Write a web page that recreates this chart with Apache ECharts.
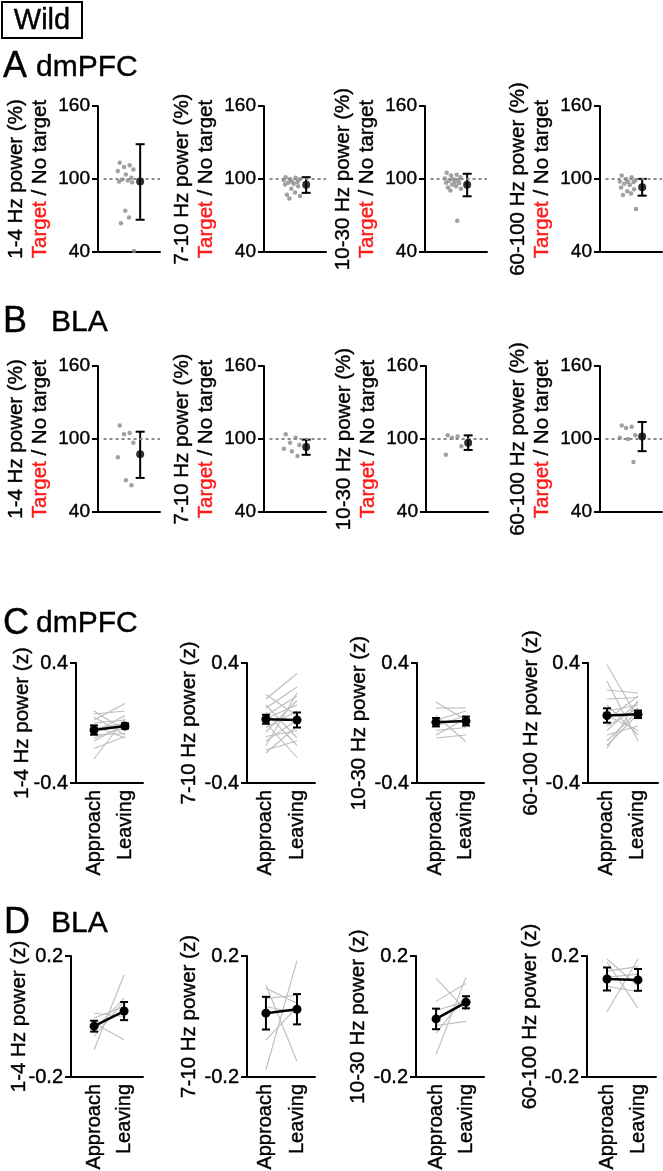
<!DOCTYPE html>
<html><head><meta charset="utf-8">
<script src="https://cdn.jsdelivr.net/npm/echarts@6/dist/echarts.min.js"></script>
<style>html,body{margin:0;padding:0;background:#fff}#c{width:663px;height:1171px}</style>
</head><body><div id="c"></div>
<script>
// ---------------- DATA ----------------
const bandLabels = ['1-4 Hz', '7-10 Hz', '10-30 Hz', '60-100 Hz'];
const ratioTicks = [40, 100, 160];
const zTicksC = [-0.4, 0.4];
const zTicksD = [-0.2, 0.2];
const phases = ['Approach', 'Leaving'];

// Panel A (dmPFC) Target / No target, individual points (%)
const A_dots_1 = [113.4, 111.2, 109.8, 107.9, 106.5, 103.7, 101, 99.5, 98.8, 97.9, 97.4, 73.9, 68.4, 63.7, 40.8];
const A_dots_2 = [101.5, 101, 100, 99.5, 99, 98, 97.5, 97, 96, 95.5, 94, 92, 89, 87, 86, 84];
const A_dots_3 = [105.1, 103.5, 102.9, 101.5, 100.5, 100, 99, 98.5, 97.5, 97, 96.5, 95.5, 94, 93, 92, 90.5, 65.7];
const A_dots_4 = [102.9, 101.5, 100.1, 99, 98, 97.8, 97.5, 96, 95, 93, 91.5, 90, 88, 86.9, 75.3];
const A_mean = [97.9, 95.2, 95.2, 93.2];
const A_lo = [66.5, 88.6, 85.8, 86.3];
const A_hi = [128.6, 101.5, 104.3, 100.1];

// Panel B (BLA)
const B_dots_1 = [111, 105, 104, 97, 85, 66, 62];
const B_dots_2 = [104, 101, 97, 95, 92, 90, 86];
const B_dots_3 = [103, 102, 101, 94, 87];
const B_dots_4 = [111, 110, 109, 103, 101, 100, 81];
const B_mean = [87.5, 93.4, 97, 102];
const B_lo = [68, 87, 91, 90];
const B_hi = [106, 99.5, 103, 114];

// Panel C (dmPFC) z power, individual animals: approach / leaving
const C_app_1 = [0.08, 0.06, 0.04, 0.02, 0.0, -0.02, -0.04, -0.06, -0.08, -0.10, -0.12, -0.17, -0.24];
const C_lea_1 = [-0.05, 0.08, -0.08, 0.13, 0.02, -0.10, 0.0, 0.05, -0.07, -0.03, -0.01, -0.09, 0.03];
const C_app_2 = [0.19, 0.16, 0.12, 0.10, 0.07, 0.05, 0.03, 0.0, -0.03, -0.06, -0.09, -0.12, -0.15, -0.18, -0.20];
const C_lea_2 = [0.05, 0.33, -0.10, 0.24, -0.15, 0.18, 0.12, -0.23, 0.08, 0.15, -0.05, 0.02, 0.20, -0.12, -0.02];
const C_app_3 = [0.14, 0.10, 0.05, 0.02, -0.02, -0.05, -0.08, -0.10];
const C_lea_3 = [0.02, 0.10, -0.125, 0.08, 0.05, -0.03, 0.03, -0.08];
const C_app_4 = [0.39, 0.28, 0.22, 0.16, 0.12, 0.08, 0.05, 0.02, -0.02, -0.05, -0.08, -0.12, -0.15, -0.17];
const C_lea_4 = [0.03, -0.12, 0.20, 0.17, -0.08, 0.12, -0.05, 0.18, 0.10, 0.14, -0.02, 0.08, 0.06, 0.15];
const C_meanApp = [-0.047, 0.025, 0.005, 0.05];
const C_meanLea = [-0.02, 0.02, 0.013, 0.058];
const C_errApp = [0.031, 0.03, 0.028, 0.048];
const C_errLea = [0.017, 0.05, 0.03, 0.025];

// Panel D (BLA)
const D_app_1 = [-0.11, -0.066, -0.022, -0.005, 0.011, -0.044];
const D_lea_1 = [0.137, 0.05, -0.077, 0.033, 0.0, 0.06];
const D_app_2 = [-0.176, 0.104, 0.093, 0.033, -0.077, 0.06];
const D_lea_2 = [0.185, -0.148, 0.044, 0.011, 0.03, 0.07];
const D_app_3 = [0.126, -0.126, 0.05, -0.03, -0.055, 0.02];
const D_lea_3 = [0.02, 0.13, 0.11, -0.016, 0.07, 0.05];
const D_app_4 = [0.19, 0.18, 0.016, 0.15, 0.10, 0.13];
const D_lea_4 = [0.10, 0.027, 0.19, 0.165, 0.082, 0.14];
const D_meanApp = [-0.032, 0.011, -0.008, 0.124];
const D_meanLea = [0.018, 0.024, 0.047, 0.121];
const D_errApp = [0.018, 0.054, 0.034, 0.038];
const D_errLea = [0.03, 0.05, 0.02, 0.036];

// ---------------- LAYOUT / STYLE ----------------
const FONT = '"Liberation Sans", Arial, Helvetica, sans-serif';
const BLACK = '#000';
const RED = '#ff1a1a';
const axisLineStyle = { color: BLACK, width: 2 };
const thick = (c) => ({ textBorderColor: c, textBorderWidth: 0.4 });

const option = {
  animation: false,
  backgroundColor: '#fff',
  textStyle: { fontFamily: FONT },
  grid: [], xAxis: [], yAxis: [], series: [], graphic: []
};

const jitter = [-0.1, 0.06, -0.03, 0.12, -0.13, 0.0, 0.09, -0.06, 0.03, -0.11, 0.1, -0.01, 0.05, -0.08, 0.13, -0.04, 0.07];
const DOT_X = 0.45, MEAN_X = 0.68;

function errRender(cap) {
  return function (params, api) {
    const x = api.value(0), lo = api.value(2), hi = api.value(3);
    const pLo = api.coord([x, lo]), pHi = api.coord([x, hi]);
    const st = { stroke: BLACK, lineWidth: 2 };
    return { type: 'group', children: [
      { type: 'line', shape: { x1: pLo[0], y1: pLo[1], x2: pHi[0], y2: pHi[1] }, style: st },
      { type: 'line', shape: { x1: pLo[0] - cap, y1: pLo[1], x2: pLo[0] + cap, y2: pLo[1] }, style: st },
      { type: 'line', shape: { x1: pHi[0] - cap, y1: pHi[1], x2: pHi[0] + cap, y2: pHi[1] }, style: st }
    ]};
  };
}

function grayRender(params, api) {
  const p1 = api.coord([0, api.value(1)]);
  const p2 = api.coord([1, api.value(2)]);
  return { type: 'line', shape: { x1: p1[0], y1: p1[1], x2: p2[0], y2: p2[1] },
           style: { stroke: '#bdbdbd', lineWidth: 1.1 } };
}

function addRatioPanel(top, lefts, dotsList, means, los, his) {
  for (let i = 0; i < 4; i++) {
    const gi = option.grid.length;
    option.grid.push({ left: lefts[i], top: top, width: 62, height: 146, containLabel: false, outerBoundsMode: 'none' });
    option.xAxis.push({ gridIndex: gi, type: 'value', min: 0, max: 1,
      axisLine: { show: true, onZero: false, lineStyle: axisLineStyle },
      axisTick: { show: false }, axisLabel: { show: false }, splitLine: { show: false } });
    option.yAxis.push({ gridIndex: gi, type: 'value', min: 40, max: 160,
      axisLine: { show: true, onZero: false, lineStyle: axisLineStyle },
      axisTick: { show: true, length: 6, customValues: ratioTicks, lineStyle: axisLineStyle },
      axisLabel: Object.assign({ customValues: ratioTicks, fontSize: 19, color: BLACK, margin: 8, fontFamily: FONT }, thick(BLACK)),
      splitLine: { show: false },
      name: '{k|' + bandLabels[i] + ' power (%)}\n{r|Target}{k| / No target}',
      nameLocation: 'middle', nameRotate: 90, nameGap: 46, nameMoveOverlap: false,
      nameTextStyle: { rich: {
        k: Object.assign({ color: BLACK, fontSize: 20.5, fontFamily: FONT, lineHeight: 24 }, thick(BLACK)),
        r: Object.assign({ color: RED, fontSize: 20.5, fontFamily: FONT, lineHeight: 24 }, thick(RED)) } }
    });
    const dots = dotsList[i].map((v, j) => [DOT_X + jitter[j % jitter.length], v]);
    option.series.push({ type: 'scatter', xAxisIndex: gi, yAxisIndex: gi, data: dots,
      symbol: 'circle', symbolSize: 4.5, itemStyle: { color: '#8a8a8a' }, z: 2, silent: true,
      markLine: { silent: true, symbol: 'none', label: { show: false },
        lineStyle: { color: '#8a8a8a', width: 2, type: [3, 3] },
        data: [[{ coord: [0.09, 100] }, { coord: [1, 100] }]] } });
    option.series.push({ type: 'custom', xAxisIndex: gi, yAxisIndex: gi, z: 4, silent: true,
      renderItem: errRender(4.5), encode: { x: 0, y: [1, 2, 3] },
      data: [[MEAN_X, means[i], los[i], his[i]]] });
    option.series.push({ type: 'scatter', xAxisIndex: gi, yAxisIndex: gi, z: 5, silent: true,
      data: [[MEAN_X, means[i]]], symbolSize: 8, itemStyle: { color: BLACK } });
  }
}

function addZPanel(top, height, lefts, widths, xr, gaps, min, max, ticks, apps, leas, mA, mL, eA, eL) {
  for (let i = 0; i < 4; i++) {
    const gi = option.grid.length;
    option.grid.push({ left: lefts[i], top: top, width: widths[i], height: height, containLabel: false, outerBoundsMode: 'none' });
    option.xAxis.push({ gridIndex: gi, type: 'value', min: xr[i][0], max: xr[i][1],
      axisLine: { show: true, onZero: false, lineStyle: axisLineStyle },
      axisTick: { show: false },
      axisLabel: Object.assign({ customValues: [0, 1], formatter: v => phases[Math.round(v)],
        rotate: 90, fontSize: 20, color: BLACK, margin: 7, fontFamily: FONT }, thick(BLACK)),
      splitLine: { show: false } });
    option.yAxis.push({ gridIndex: gi, type: 'value', min: min, max: max,
      axisLine: { show: true, onZero: false, lineStyle: axisLineStyle },
      axisTick: { show: true, length: 6, customValues: ticks, lineStyle: axisLineStyle },
      axisLabel: Object.assign({ customValues: ticks, fontSize: 20, color: BLACK, margin: 8, fontFamily: FONT }, thick(BLACK)),
      splitLine: { show: false },
      name: bandLabels[i] + ' power (z)', nameLocation: 'middle', nameRotate: 90,
      nameGap: gaps[i], nameMoveOverlap: false,
      nameTextStyle: Object.assign({ color: BLACK, fontSize: 20.5, fontFamily: FONT }, thick(BLACK)) });
    const pairs = apps[i].map((a, j) => [0, a, leas[i][j]]);
    option.series.push({ type: 'custom', xAxisIndex: gi, yAxisIndex: gi, z: 1, silent: true,
      renderItem: grayRender, encode: { x: 0, y: [1, 2] }, data: pairs });
    option.series.push({ type: 'line', xAxisIndex: gi, yAxisIndex: gi, z: 3, silent: true,
      data: [[0, mA[i]], [1, mL[i]]], symbol: 'circle', symbolSize: 9,
      lineStyle: { color: BLACK, width: 2.5 }, itemStyle: { color: BLACK } });
    option.series.push({ type: 'custom', xAxisIndex: gi, yAxisIndex: gi, z: 4, silent: true,
      renderItem: errRender(4), encode: { x: 0, y: [1, 2, 3] },
      data: [[0, mA[i], mA[i] - eA[i], mA[i] + eA[i]], [1, mL[i], mL[i] - eL[i], mL[i] + eL[i]]] });
  }
}

addRatioPanel(106, [98, 264, 425, 600],
  [A_dots_1, A_dots_2, A_dots_3, A_dots_4], A_mean, A_lo, A_hi);
addRatioPanel(366, [98, 264, 426, 600],
  [B_dots_1, B_dots_2, B_dots_3, B_dots_4], B_mean, B_lo, B_hi);
addZPanel(663, 120, [76, 247, 417, 588], [67, 68, 67, 70],
  [[-0.58, 1.58], [-0.61, 1.58], [-0.63, 1.6], [-0.61, 1.645]],
  [43, 47, 47, 46], -0.4, 0.4, zTicksC,
  [C_app_1, C_app_2, C_app_3, C_app_4], [C_lea_1, C_lea_2, C_lea_3, C_lea_4],
  C_meanApp, C_meanLea, C_errApp, C_errLea);
addZPanel(956, 121, [71, 247, 416, 587], [72, 68, 68, 69],
  [[-0.77, 1.63], [-0.61, 1.58], [-0.67, 1.6], [-0.645, 1.58]],
  [41, 47, 47, 46], -0.2, 0.2, zTicksD,
  [D_app_1, D_app_2, D_app_3, D_app_4], [D_lea_1, D_lea_2, D_lea_3, D_lea_4],
  D_meanApp, D_meanLea, D_errApp, D_errLea);

function txt(x, y, s, size) {
  return { type: 'text', x: x, y: y, silent: true,
    style: { text: s, fontSize: size, fontFamily: FONT, fill: BLACK, stroke: BLACK, lineWidth: 0.4,
             align: 'left', verticalAlign: 'middle' } };
}
option.graphic = [
  { type: 'rect', silent: true, shape: { x: 2, y: 2, width: 80, height: 36 },
    style: { fill: 'none', stroke: BLACK, lineWidth: 2 } },
  { type: 'text', x: 42, y: 21, silent: true,
    style: { text: 'Wild', fontSize: 29, fontFamily: FONT, fill: BLACK, stroke: BLACK, lineWidth: 0.4,
             align: 'center', verticalAlign: 'middle' } },
  txt(3, 67, 'A', 36), txt(36, 68, 'dmPFC', 30),
  txt(3, 322, 'B', 36), txt(51, 323, 'BLA', 30),
  txt(3, 624, 'C', 36), txt(36, 624, 'dmPFC', 30),
  txt(4, 923, 'D', 36), txt(51, 924, 'BLA', 30)
];

const chart = echarts.init(document.getElementById('c'), null, { renderer: 'canvas' });
chart.setOption(option);
</script>
</body></html>
